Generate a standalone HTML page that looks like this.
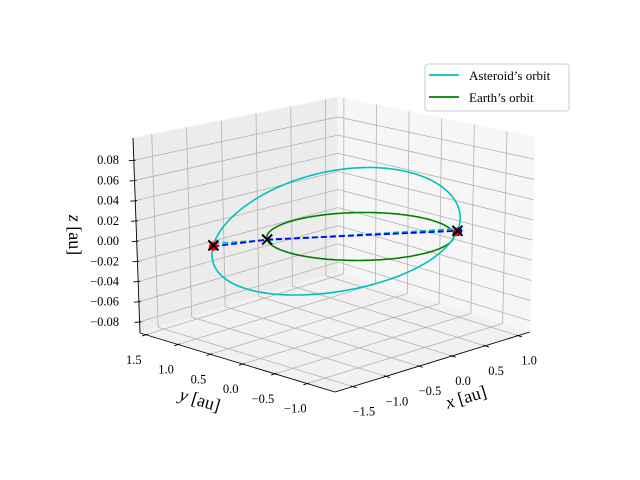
<!DOCTYPE html>
<html><head><meta charset="utf-8"><style>
body{margin:0;background:#fff}
svg{display:block;font-family:"Liberation Serif",serif}
</style></head><body>
<svg id="chart" width="640" height="480" viewBox="0 0 640 480" xmlns="http://www.w3.org/2000/svg">
<g id="panes"></g>
<g id="grid"></g>
<g id="axes"></g>
<g id="series"></g>
<text x="466" y="403" font-size="18" text-anchor="middle" transform="rotate(-17 466 397)"><tspan font-style="italic">x</tspan> [au]</text>
<text x="200" y="406" font-size="18" text-anchor="middle" transform="rotate(17 200 400)"><tspan font-style="italic">y</tspan> [au]</text>
<text x="75" y="241" font-size="18" text-anchor="middle" transform="rotate(90 75 235)"><tspan font-style="italic">z</tspan> [au]</text>
<g>
<rect x="425" y="64" width="144" height="47" rx="3" fill="#fff" fill-opacity="0.8" stroke="#cccccc" stroke-width="1"/>
<line x1="429" y1="75" x2="459" y2="75" stroke="#00bfbf" stroke-width="1.8"/>
<text x="469" y="80" font-size="13">Asteroid’s orbit</text>
<line x1="429" y1="97" x2="459" y2="97" stroke="#008000" stroke-width="1.8"/>
<text x="469" y="102" font-size="13">Earth’s orbit</text>
</g>
</svg>
<script>
const xTicks=[-1.5,-1.0,-0.5,0.0,0.5,1.0];
const yTicks=[-1.0,-0.5,0.0,0.5,1.0,1.5];
const zTicks=[-0.08,-0.06,-0.04,-0.02,0.00,0.02,0.04,0.06,0.08];
const xLim=[-1.77,1.18];
const yLim=[-1.43,1.59];
const zLim=[-0.091,0.102];
// asteroid orbital elements: semi-latus p, eccentricity, inclination(deg), node angle(deg), periapsis arg(deg)
const asteroidP=[1.27];
const asteroidE=[0.205];
const asteroidInc=[-4.1];
const asteroidNode=[-33];
const asteroidPeri=[5];
const earthRadius=[1.0];
const earthMarkerAngle=[141];

const NS="http://www.w3.org/2000/svg";
const B={a:[335,392],b:[530,332],c:[140,333],d:[338,272]};
const T={a:[335,177],b:[535,137],c:[133,138],d:[338,97]};
function bil(C,u,v){
  const x0=C.a[0]+(C.b[0]-C.a[0])*u, y0=C.a[1]+(C.b[1]-C.a[1])*u;
  const x1=C.c[0]+(C.d[0]-C.c[0])*u, y1=C.c[1]+(C.d[1]-C.c[1])*u;
  return [x0+(x1-x0)*v, y0+(y1-y0)*v];
}
function P(x,y,z){
  const u=(x-xLim[0])/(xLim[1]-xLim[0]);
  const v=(y-yLim[0])/(yLim[1]-yLim[0]);
  const w=(z-zLim[0])/(zLim[1]-zLim[0]);
  const b=bil(B,u,v), t=bil(T,u,v);
  return [b[0]+(t[0]-b[0])*w, b[1]+(t[1]-b[1])*w];
}
function el(tag,attrs,parent,name){
  const e=document.createElementNS(NS,tag);
  for(const k in attrs) e.setAttribute(k,attrs[k]);
  
  
  parent.appendChild(e);return e;
}
function poly(pts){return pts.map(p=>p[0].toFixed(1)+','+p[1].toFixed(1)).join(' ');}
const panes=document.getElementById('panes'),grid=document.getElementById('grid'),axes=document.getElementById('axes'),series=document.getElementById('series');
const [x0,x1]=xLim,[y0,y1]=yLim,[z0,z1]=zLim;
el('polygon',{points:poly([P(x0,y1,z0),P(x1,y1,z0),P(x1,y1,z1),P(x0,y1,z1)]),fill:'#ececec',stroke:'#f2f2f2'},panes,'left-pane');
el('polygon',{points:poly([P(x1,y0,z0),P(x1,y1,z0),P(x1,y1,z1),P(x1,y0,z1)]),fill:'#f6f6f6',stroke:'#f8f8f8'},panes,'right-pane');
el('polygon',{points:poly([P(x0,y0,z0),P(x1,y0,z0),P(x1,y1,z0),P(x0,y1,z0)]),fill:'#f1f1f1',stroke:'#f4f4f4'},panes,'floor-pane');
function gl(a,b,name){el('line',{x1:a[0],y1:a[1],x2:b[0],y2:b[1],stroke:'#b3b3b3','stroke-width':0.8},grid,name);}
xTicks.forEach(x=>{gl(P(x,y0,z0),P(x,y1,z0),'floor-grid-x');gl(P(x,y1,z0),P(x,y1,z1),'left-grid-x');});
yTicks.forEach(y=>{gl(P(x0,y,z0),P(x1,y,z0),'floor-grid-y');gl(P(x1,y,z0),P(x1,y,z1),'right-grid-y');});
zTicks.forEach(z=>{gl(P(x0,y1,z),P(x1,y1,z),'left-grid-z');gl(P(x1,y0,z),P(x1,y1,z),'right-grid-z');});
function al(a,b,name){el('line',{x1:a[0],y1:a[1],x2:b[0],y2:b[1],stroke:'#000','stroke-width':0.9},axes,name);}
al(P(x0,y0,z0),P(x1,y0,z0),'x-axis-line');
al(P(x0,y0,z0),P(x0,y1,z0),'y-axis-line');
al(P(x0,y1,z0),P(x0,y1,z1),'z-axis-line');
function fmt(v,d){const s=Math.abs(v).toFixed(d);return (v<-1e-9?'−':'')+s;}
function txt(x,y,s,anchor,name){const t=el('text',{x:x,y:y,'font-size':12.5,'text-anchor':anchor},axes,name);t.textContent=s;}
xTicks.forEach(x=>{const p=P(x,y0,z0);al([p[0]-1.9,p[1]-0.6],[p[0]+3.8,p[1]+1.2],'x-tick');txt(p[0]+11,p[1]+29,fmt(x,1),'middle','x-tick-label');});
yTicks.forEach(y=>{const p=P(x0,y,z0);al([p[0]+1.9,p[1]-0.6],[p[0]-3.8,p[1]+1.2],'y-tick');txt(p[0]-12,p[1]+29,fmt(y,1),'middle','y-tick-label');});
zTicks.forEach(z=>{const p=P(x0,y1,z);al([p[0]+2,p[1]],[p[0]-5,p[1]+0.5],'z-tick');txt(119,p[1]+4,fmt(z,2),'end','z-tick-label');});
const ep=[];for(let k=0;k<=240;k++){const a=k/240*2*Math.PI;ep.push(P(earthRadius[0]*Math.cos(a),earthRadius[0]*Math.sin(a),0));}
el('polyline',{points:poly(ep),fill:'none',stroke:'#008000','stroke-width':1.6},series,'earth-orbit');
const d2r=Math.PI/180,th=asteroidNode[0]*d2r,inc=asteroidInc[0]*d2r,om=asteroidPeri[0]*d2r;
function ast(phi){const r=asteroidP[0]/(1+asteroidE[0]*Math.cos(phi-om));
  const cx=r*Math.cos(phi),cy=r*Math.sin(phi)*Math.cos(inc),z=r*Math.sin(phi)*Math.sin(inc);
  return [cx*Math.cos(th)-cy*Math.sin(th),cx*Math.sin(th)+cy*Math.cos(th),z];}
const ap=[];for(let k=0;k<=360;k++){const q=ast(k/360*2*Math.PI);ap.push(P(q[0],q[1],q[2]));}
el('polyline',{points:poly(ap),fill:'none',stroke:'#00bfbf','stroke-width':1.6},series,'asteroid-orbit');
const nA=ast(0),nB=ast(Math.PI);
const pA=P(nA[0],nA[1],nA[2]),pB=P(nB[0],nB[1],nB[2]);
const ea=earthMarkerAngle[0]*d2r,pE=P(earthRadius[0]*Math.cos(ea),earthRadius[0]*Math.sin(ea),0);
el('line',{x1:pB[0],y1:pB[1]-2,x2:pA[0],y2:pA[1]-2,stroke:'#00bfbf','stroke-width':1.8,'stroke-dasharray':'6,3'},series,'asteroid-node-line');
el('polyline',{points:poly([[pB[0],pB[1]+1],pE,pA]),fill:'none',stroke:'#0000ff','stroke-width':1.8,'stroke-dasharray':'6,3'},series,'earth-node-line');
[pB,pA].forEach(p=>el('circle',{cx:p[0],cy:p[1]+1,r:4.5,fill:'#ff0000'},series,'asteroid-node-dot'));
el('circle',{cx:pA[0]+2,cy:pA[1],r:3,fill:'#0000ff'},series,'right-node-blue-dot');
[pB,pE,pA].forEach(p=>el('path',{d:`M${p[0]-5},${p[1]-5}L${p[0]+5},${p[1]+5}M${p[0]-5},${p[1]+5}L${p[0]+5},${p[1]-5}`,stroke:'#000','stroke-width':2},series,'node-x-marker'));
</script>
</body></html>
